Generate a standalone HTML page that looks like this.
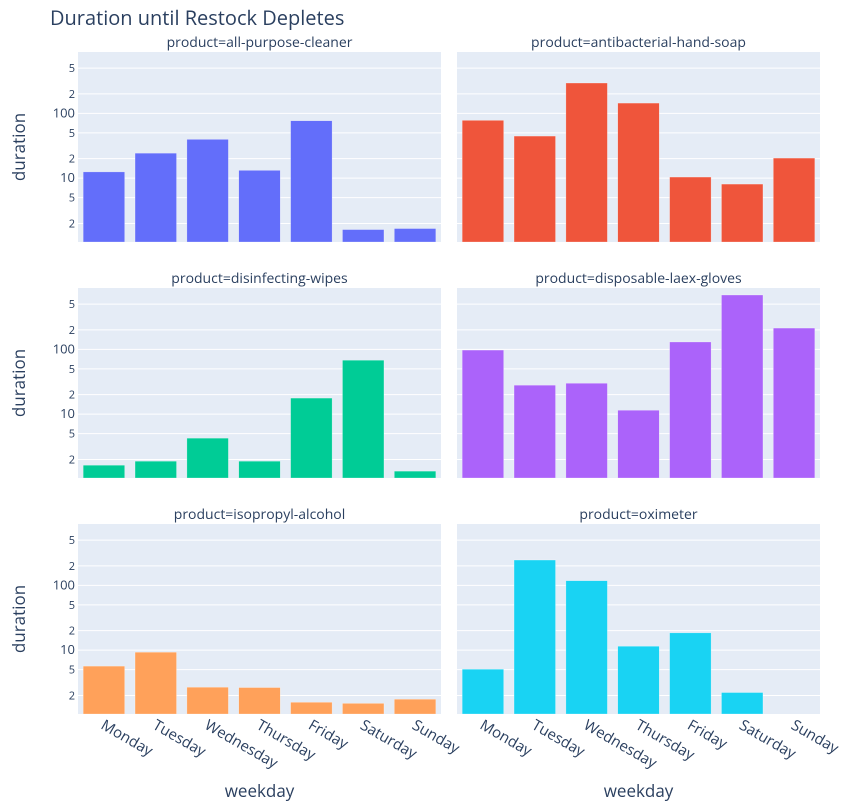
<!DOCTYPE html>
<html><head><meta charset="utf-8"><style>
body{margin:0;background:#fff;font-family:"Liberation Sans",Arial,sans-serif;}
svg text{font-family:"Open Sans","Liberation Sans",Arial,sans-serif;fill:#2a3f5f;}
</style></head><body>
<svg id="chart" width="857" height="807" xmlns="http://www.w3.org/2000/svg">
<text x="50" y="25" font-size="20">Duration until Restock Depletes</text>
</svg>
<script>
const days = ["Monday","Tuesday","Wednesday","Thursday","Friday","Saturday","Sunday"];
const products = ["all-purpose-cleaner","antibacterial-hand-soap","disinfecting-wipes","disposable-laex-gloves","isopropyl-alcohol","oximeter"];
const colors = ["#636efa","#EF553B","#00cc96","#ab63fa","#FFA15A","#19d3f3"];
const cleanerVals = [12.5,24.3,39.7,13.2,76.9,1.61,1.67];
const soapVals = [78,44.6,294,144,10.4,8.1,20.4];
const wipesVals = [1.63,1.88,4.26,1.88,17.7,68,1.32];
const glovesVals = [97.5,28,30,11.5,130,690,213];
const alcoholVals = [5.67,9.3,2.68,2.65,1.57,1.51,1.75];
const oximeterVals = [5.08,246,118,11.5,18.5,2.22,null];
const tickVals = [2,5,10,20,50,100,200,500];
const tickLabels = ["2","5","10","2","5","100","2","5"];
const series=[cleanerVals,soapVals,wipesVals,glovesVals,alcoholVals,oximeterVals];
const NS="http://www.w3.org/2000/svg";
const svg=document.getElementById('chart');
const colX=[78,457], W=363, H=190, rowY=[52,288,524];
const logMin=0.015, logMax=2.947;
function el(t,a,p){const e=document.createElementNS(NS,t);for(const k in a)e.setAttribute(k,a[k]);(p||svg).appendChild(e);return e;}
for(let i=0;i<6;i++){
  const c=i%2,r=Math.floor(i/2),x0=colX[c],y0=rowY[r];
  const g=el('g',{});
  
  
  const bg=el('rect',{x:x0,y:y0,width:W,height:H,fill:'#e5ecf6'},g);
  
  
  const yS=v=>y0+H-(Math.log10(v)-logMin)/(logMax-logMin)*H;
  tickVals.forEach((tv,k)=>{
    const y=yS(tv);
    const gl=el('line',{x1:x0,x2:x0+W,y1:y,y2:y,stroke:'#fff','stroke-width':1},g);
    
    
    if(c===0){
      const t=el('text',{x:x0-3,y:y+4,'text-anchor':'end','font-size':tickLabels[k].length>1?13:11},g);
      t.textContent=tickLabels[k];
      
      
    }
  });
  const bw=W/7;
  series[i].forEach((v,j)=>{
    if(v==null)return;
    const y=yS(v), bx=x0+bw*j+bw*0.1;
    const b=el('rect',{x:bx,y:y,width:bw*0.8,height:y0+H-y,fill:colors[i],stroke:'rgba(255,255,255,0.5)','stroke-width':0.5},g);
    
    
  });
  const st=el('text',{x:x0+W/2,y:y0-5,'text-anchor':'middle','font-size':14},g);
  st.textContent='product='+products[i];
  
  
  if(c===0){
    const yt=el('text',{x:0,y:0,'text-anchor':'middle','font-size':17,transform:`translate(25,${y0+H/2}) rotate(-90)`},g);
    yt.textContent='duration';
    
    
  }
  if(r===2){
    days.forEach((d,j)=>{
      const cx=x0+bw*(j+0.5);
      const t=el('text',{x:0,y:0,'font-size':15,transform:`translate(${cx-4},${y0+H+14}) rotate(30)`},g);
      t.textContent=d;
      
      
    });
    const xt=el('text',{x:x0+W/2,y:797,'text-anchor':'middle','font-size':17},g);
    xt.textContent='weekday';
    
    
  }
}
</script>
</body></html>
